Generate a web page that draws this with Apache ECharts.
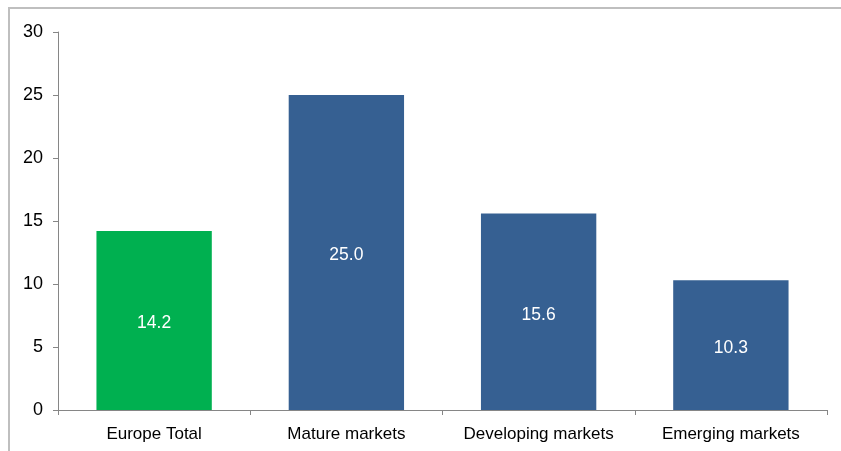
<!DOCTYPE html>
<html>
<head>
<meta charset="utf-8">
<script src="https://cdn.jsdelivr.net/npm/echarts@6/dist/echarts.min.js"></script>
<style>
  html, body { margin: 0; padding: 0; background: #fff; }
  #chart { width: 841px; height: 451px; }
</style>
</head>
<body>
<div id="chart"></div>
<script>
// chart data
const categories = ['Europe Total', 'Mature markets', 'Developing markets', 'Emerging markets'];
const values = [14.2, 25.0, 15.6, 10.3];
const barColors = ['#00B050', '#366092', '#366092', '#366092'];

let myChart = echarts.init(document.getElementById('chart'));

myChart.setOption({
  animation: false,
  graphic: [
    {
      type: 'rect',
      shape: { x: 9, y: 8, width: 900, height: 500 },
      style: { fill: 'none', stroke: '#BFBFBF', lineWidth: 2 },
      silent: true
    }
  ],
  grid: {
    left: 58,
    right: 14,
    top: 32,
    bottom: 41
  },
  xAxis: {
    type: 'category',
    data: categories,
    axisLine: {
      show: true,
      lineStyle: { color: '#868686', width: 1 }
    },
    axisTick: {
      show: true,
      interval: 0,
      length: 5,
      lineStyle: { color: '#868686' }
    },
    axisLabel: {
      interval: 0,
      hideOverlap: false,
      color: '#000',
      fontFamily: 'Liberation Sans, Arial, sans-serif',
      fontSize: 17,
      margin: 16
    }
  },
  yAxis: {
    type: 'value',
    min: 0,
    max: 30,
    interval: 5,
    splitLine: { show: false },
    axisLine: {
      show: true,
      lineStyle: { color: '#868686', width: 1 }
    },
    axisTick: {
      show: true,
      length: 5,
      lineStyle: { color: '#868686' }
    },
    axisLabel: {
      color: '#000',
      fontFamily: 'Liberation Sans, Arial, sans-serif',
      fontSize: 18,
      margin: 15
    }
  },
  series: [
    {
      type: 'bar',
      barWidth: '60%',
      data: values.map((v, i) => ({ value: v, itemStyle: { color: barColors[i] } })),
      label: {
        show: true,
        position: 'inside',
        offset: [0, 3],
        color: '#fff',
        fontFamily: 'Liberation Sans, Arial, sans-serif',
        fontSize: 17.5,
        formatter: p => p.value.toFixed(1)
      }
    }
  ]
});
</script>
</body>
</html>
